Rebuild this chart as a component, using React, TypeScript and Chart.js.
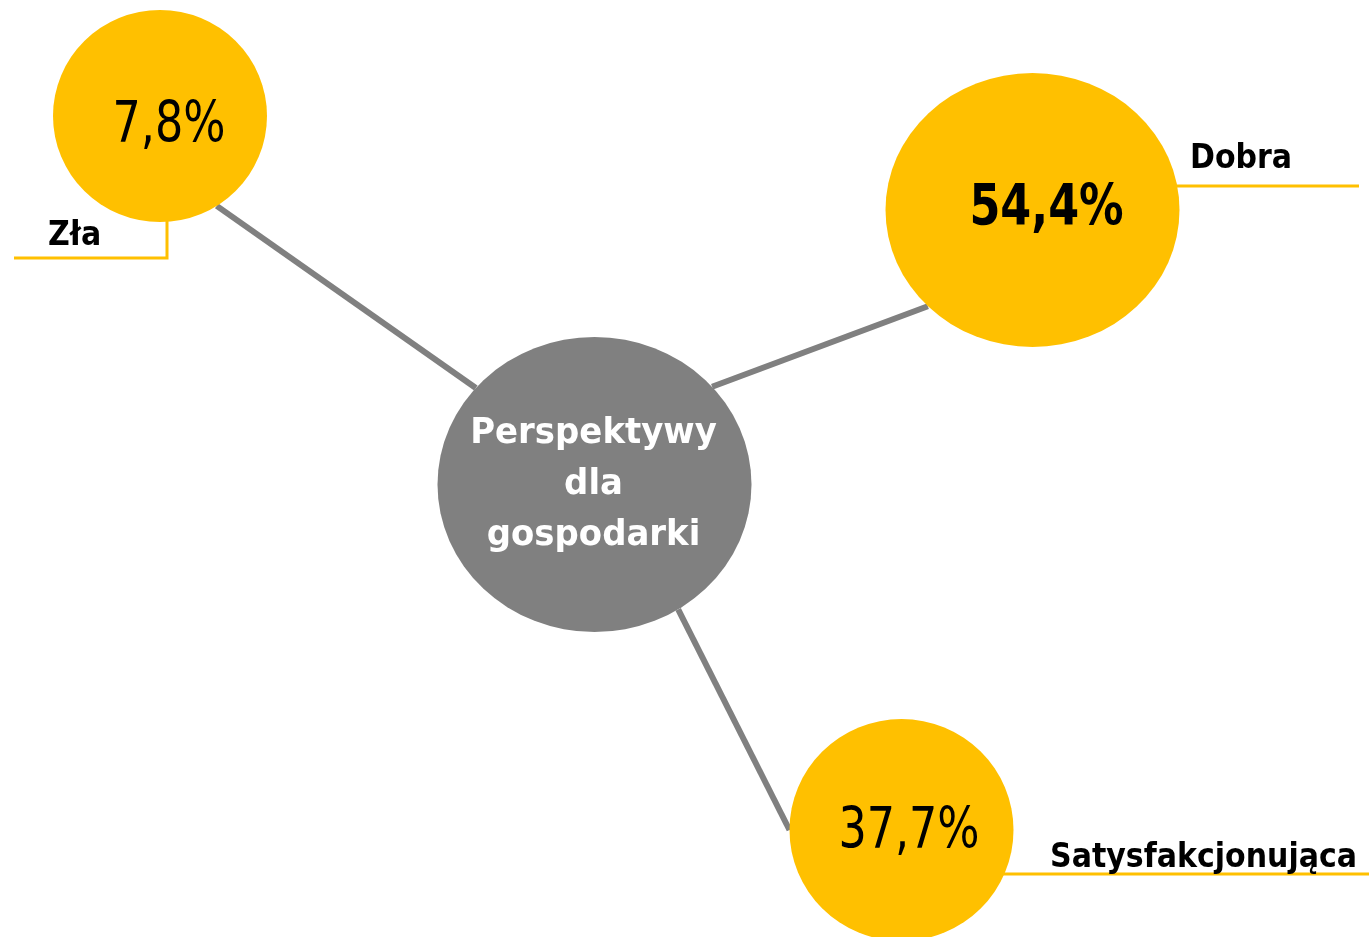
import React, { useEffect, useRef } from "react";
import { Chart, registerables } from "chart.js";

Chart.register(...registerables);

// ---- data ----
const categories = ["Zła", "Dobra", "Satysfakcjonująca"];
const values = [7.8, 54.4, 37.7];
const hubLines = ["Perspektywy", "dla", "gospodarki"];
// node centres in layout units (0..1369 x 0..937)
const nodeX = [160, 1032.5, 901.5];
const nodeY = [116, 210, 830];
const hubX = 594.5;
const hubY = 484.5;

// ---- styles / layout ----
const W = 1369;
const H = 937;
const YELLOW = "#FFC000";
const GREY = "#808080";
const FONT = "'DejaVu Sans', Verdana, sans-serif";
const nodeRx = [107, 147, 112];
const nodeRy = [106, 137, 111];
const hubRx = 157;
const hubRy = 147.5;
// text offsets relative to node centre (x centre, baseline)
const valueDx = [9, 14, 7.5];
const valueDy = [26, 15, 18];
// connector angles (deg) on hub ellipse and node ellipse
const hubAngle = [220.9, -41.5, 57.8];
const nodeAngle = [58, 135.4, 180];
// label anchors (left x, baseline) and leader polylines
const labelPos = [
  [48, 245],
  [1190, 168],
  [1050, 867],
];
const leaders = [
  [[167, 116], [167, 258], [14, 258]],
  [[1032.5, 186], [1359, 186]],
  [[901.5, 874], [1369, 874]],
];
const hubBaselines = [443, 494, 545];

const fmt = (v: number) => v.toFixed(1).replace(".", ",") + "%";

function drawText(
  ctx: CanvasRenderingContext2D,
  text: string,
  x: number,
  y: number,
  font: string,
  color: string,
  align: CanvasTextAlign,
  scaleX: number
) {
  ctx.save();
  ctx.translate(x, y);
  ctx.scale(scaleX, 1);
  ctx.font = font;
  ctx.fillStyle = color;
  ctx.textAlign = align;
  ctx.textBaseline = "alphabetic";
  ctx.fillText(text, 0, 0);
  ctx.restore();
}

const diagramPlugin = {
  id: "diagram",
  afterDatasetsDraw(chart: any) {
    const ctx: CanvasRenderingContext2D = chart.ctx;
    const xs = chart.scales.x;
    const ys = chart.scales.y;
    const px = (v: number) => xs.getPixelForValue(v);
    const py = (v: number) => ys.getPixelForValue(v);
    const sx = (d: number) => Math.abs(px(d) - px(0));
    const sy = (d: number) => Math.abs(py(d) - py(0));

    const meta = chart.getDatasetMeta(0);
    const hub = meta.data[0];
    const hcx = hub.x;
    const hcy = hub.y;
    const hrx = sx(hubRx);
    const hry = sy(hubRy);

    ctx.save();
    // leaders
    ctx.strokeStyle = YELLOW;
    ctx.lineWidth = 3;
    leaders.forEach((pts) => {
      ctx.beginPath();
      pts.forEach((p, i) => {
        if (i === 0) ctx.moveTo(px(p[0]), py(p[1]));
        else ctx.lineTo(px(p[0]), py(p[1]));
      });
      ctx.stroke();
    });

    // connectors
    ctx.strokeStyle = GREY;
    ctx.lineWidth = 6;
    ctx.lineCap = "butt";
    categories.forEach((_, i) => {
      const el = meta.data[i + 1];
      const a1 = (hubAngle[i] * Math.PI) / 180;
      const a2 = (nodeAngle[i] * Math.PI) / 180;
      const x1 = hcx + hrx * Math.cos(a1);
      const y1 = hcy + hry * Math.sin(a1);
      const x2 = el.x + sx(nodeRx[i]) * Math.cos(a2);
      const y2 = el.y + sy(nodeRy[i]) * Math.sin(a2);
      ctx.beginPath();
      ctx.moveTo(x1, y1);
      ctx.lineTo(x2, y2);
      ctx.stroke();
    });

    // hub
    ctx.fillStyle = GREY;
    ctx.beginPath();
    ctx.ellipse(hcx, hcy, hrx, hry, 0, 0, Math.PI * 2);
    ctx.fill();

    // nodes
    const maxV = Math.max(...values);
    categories.forEach((cat, i) => {
      const el = meta.data[i + 1];
      ctx.fillStyle = YELLOW;
      ctx.beginPath();
      ctx.ellipse(el.x, el.y, sx(nodeRx[i]), sy(nodeRy[i]), 0, 0, Math.PI * 2);
      ctx.fill();
      const bold = values[i] === maxV ? "bold " : "";
      drawText(
        ctx,
        fmt(values[i]),
        el.x + sx(valueDx[i]),
        el.y + sy(valueDy[i]),
        `${bold}57px ${FONT}`,
        "#000000",
        "center",
        0.78
      );
      drawText(
        ctx,
        cat,
        px(labelPos[i][0]),
        py(labelPos[i][1]),
        `bold 33px ${FONT}`,
        "#000000",
        "left",
        0.91
      );
    });

    // hub text
    hubLines.forEach((t, i) => {
      drawText(ctx, t, hcx - 1, py(hubBaselines[i]), `bold 35px ${FONT}`, "#FFFFFF", "center", 0.97);
    });
    ctx.restore();
  },
};

export default function App() {
  const ref = useRef<HTMLCanvasElement>(null);
  useEffect(() => {
    document.body.style.margin = "0";
    const canvas = ref.current;
    if (!canvas) return;
    const points = [{ x: hubX, y: hubY }].concat(
      categories.map((_, i) => ({ x: nodeX[i], y: nodeY[i] }))
    );
    const chart = new Chart(canvas, {
      type: "scatter",
      data: {
        datasets: [
          {
            label: "Perspektywy dla gospodarki",
            data: points,
            pointRadius: 0,
            pointHoverRadius: 0,
          },
        ],
      },
      options: {
        animation: false,
        responsive: false,
        devicePixelRatio: 1,
        events: [],
        layout: { padding: 0 },
        plugins: { legend: { display: false }, tooltip: { enabled: false } },
        scales: {
          x: { type: "linear", min: 0, max: W, display: false },
          y: { type: "linear", min: 0, max: H, reverse: true, display: false },
        },
      },
      plugins: [diagramPlugin],
    } as any);
    return () => chart.destroy();
  }, []);
  return (
    <canvas
      ref={ref}
      width={W}
      height={H}
      style={{ display: "block", width: W, height: H }}
    />
  );
}
